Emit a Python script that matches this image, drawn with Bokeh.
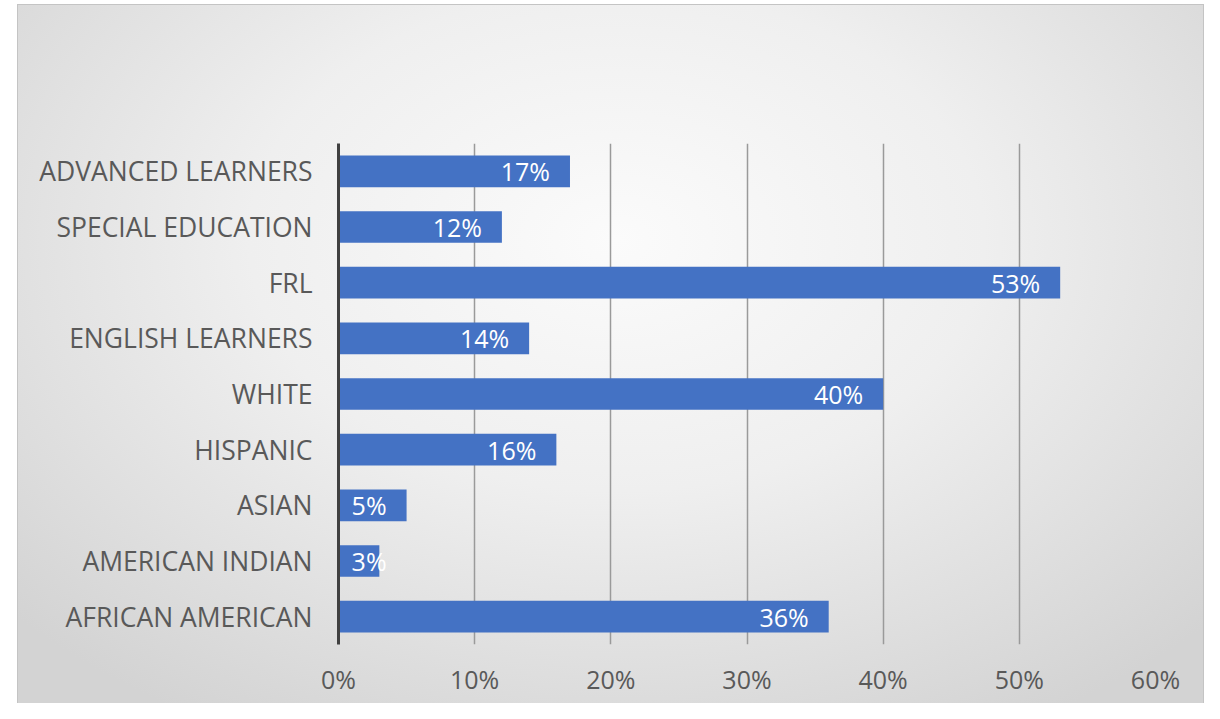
from bokeh.plotting import figure
from bokeh.models import ColumnDataSource, LabelSet, Label, FixedTicker, PrintfTickFormatter
from bokeh.core.properties import value
from bokeh.embed import file_html
from bokeh.resources import INLINE

categories = ["ADVANCED LEARNERS", "SPECIAL EDUCATION", "FRL", "ENGLISH LEARNERS",
              "WHITE", "HISPANIC", "ASIAN", "AMERICAN INDIAN", "AFRICAN AMERICAN"]
values = [17, 12, 53, 14, 40, 16, 5, 3, 36]
x_ticks = [0, 10, 20, 30, 40, 50, 60]
title_text = "Afterschool 2018-2019"

FONT = "Open Sans"
BAR = "#4472C4"

label_x = [max(v, 5) for v in values]
source = ColumnDataSource(dict(
    cat=categories,
    val=values,
    lx=label_x,
    txt=[f"{v}%" for v in values],
))

W, H = 1204, 703
p = figure(
    y_range=list(reversed(categories)),
    x_range=(0, 60),
    width=W, height=H,
    output_backend="svg", toolbar_location=None,
    min_border_left=338, min_border_right=49,
    min_border_top=143, min_border_bottom=59,
)
line = "linear-gradient(#c4c4c4,#c4c4c4)"
p.styles = {
    "background": (
        f"{line} 17px 4px / 1200px 1px no-repeat, "
        f"{line} 17px 4px / 1px 715px no-repeat, "
        f"{line} 1203px 4px / 1px 715px no-repeat, "
        "radial-gradient(ellipse 68% 78% at 50% 33%, #fbfbfb 0%, #efefef 45%, #d3d3d3 100%) "
        "17px 4px / 1200px 715px no-repeat, #ffffff"
    ),
}
p.border_fill_alpha = 0
p.background_fill_alpha = 0
p.outline_line_color = None

# title placed just above the top of the categorical frame (synthetic coordinate = number of factors)
title = Label(x=0, y=float(len(categories)), text=title_text,
              x_offset=-3, y_offset=53,
              text_align="left", text_baseline="alphabetic",
              text_font=FONT, text_font_size="52px", text_font_style="bold",
              text_color="#404040")
p.add_layout(title)

p.hbar(y="cat", right="val", height=0.57, left=0, source=source,
       fill_color=BAR, line_color=None)

labels = LabelSet(x="lx", y="cat", text="txt", source=source,
                  text_align="right", text_baseline="middle", x_offset=-20,
                  text_color="white", text_font=value(FONT), text_font_size="25px")
p.add_layout(labels)

p.xaxis.ticker = FixedTicker(ticks=x_ticks)
p.xaxis.formatter = PrintfTickFormatter(format="%d%%")
p.xaxis.axis_line_color = None
p.xaxis.major_tick_line_color = None
p.xaxis.minor_tick_line_color = None
p.xaxis.major_tick_out = 0
p.xaxis.major_label_standoff = 17
p.xaxis.major_label_text_font = FONT
p.xaxis.major_label_text_font_size = "25px"
p.xaxis.major_label_text_color = "#595959"

p.yaxis.axis_line_color = "#404040"
p.yaxis.axis_line_width = 3
p.yaxis.major_tick_line_color = None
p.yaxis.major_tick_out = 0
p.yaxis.major_label_standoff = 26
p.yaxis.major_label_text_font = FONT
p.yaxis.major_label_text_font_size = "26.5px"
p.yaxis.major_label_text_color = "#595959"

p.ygrid.grid_line_color = None
p.xgrid.grid_line_color = "#9a9a9a"
p.xgrid.grid_line_width = 1.5
p.xgrid.ticker = FixedTicker(ticks=x_ticks[1:])

open("out.html", "w").write(file_html(p, INLINE))
